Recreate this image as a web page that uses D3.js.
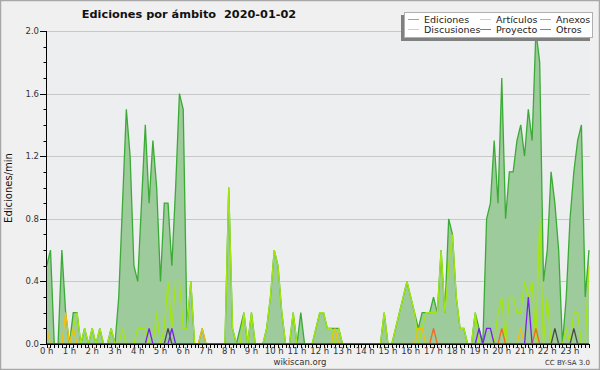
<!DOCTYPE html>
<html>
<head>
<meta charset="utf-8">
<script src="https://cdn.jsdelivr.net/npm/d3@7"></script>
<style>
  body { margin: 0; background: #f0f0f0; }
  svg { display: block; }
  text { font-family: "DejaVu Sans", sans-serif; }
</style>
</head>
<body>
<div id="chart"></div>
<script>
// 10-minute bins over the day (144 points), values in edits per minute
const ediciones = [
  0.5,0.6,0,0,0.6,0.2,0,0.2,0.2,0,0.1,0,
  0.1,0,0.1,0,0,0.1,0,0.3,0.9,1.5,1.2,0.5,
  0.4,0.9,1.4,0.9,1.3,1.0,0.4,0.9,0.9,0.5,1.0,1.6,
  1.5,0.1,0.4,0,0,0.1,0,0,0,0,0,0,
  1.0,0.1,0,0.1,0.2,0,0.2,0,0,0,0.1,0.3,
  0.6,0.5,0.2,0,0,0.2,0,0.2,0,0,0,0.1,
  0.2,0.2,0.1,0.1,0.1,0.1,0,0,0,0,0,0,
  0,0,0,0,0,0.2,0,0,0.1,0.2,0.3,0.4,
  0.3,0.2,0.1,0.2,0.2,0.2,0.3,0.2,0.6,0.2,0.8,0.7,
  0.3,0.1,0.1,0,0,0.2,0.1,0,0.8,0.9,1.3,0.9,
  1.7,0.8,1.1,1.1,1.3,1.4,1.2,1.5,1.3,2.0,1.8,0.4,
  0.6,1.1,0.9,0.6,0,0.3,0.8,1.1,1.3,1.4,0.3,0.6
];
const articulos = [
  0,0,0,0,0,0,0,0.1,0.2,0,0.1,0,
  0.1,0,0.1,0,0,0.1,0,0,0.1,0,0,0,
  0.1,0.1,0.1,0,0,0.2,0,0.1,0.4,0.1,0.4,0.4,
  0.1,0.1,0.4,0,0,0,0,0,0,0,0,0,
  1.0,0.1,0,0,0.2,0,0.2,0,0,0,0.1,0.3,
  0.6,0.5,0.2,0,0,0.2,0,0,0,0,0,0.1,
  0.2,0.2,0.1,0.1,0,0.1,0,0,0,0,0,0,
  0,0,0,0,0,0.2,0,0,0.1,0.2,0.3,0.4,
  0.3,0.2,0,0.1,0.2,0.2,0.2,0.2,0.6,0.2,0.5,0.7,
  0.3,0.1,0.1,0,0,0.2,0,0,0,0,0,0.2,
  0.3,0,0.3,0.3,0.2,0.2,0.4,0.3,0.4,0,0.8,0,
  0.3,0,0,0,0,0.1,0,0.2,0.2,0,0,0.5
];
const discusiones = [
  0.1,0,0,0,0,0.2,0,0.1,0,0,0,0,
  0,0,0,0,0,0,0,0,0,0,0,0,
  0,0,0,0,0,0,0,0,0,0,0,0,
  0,0,0,0,0,0.1,0,0,0,0,0,0,
  0,0,0,0,0,0,0,0,0,0,0,0,
  0,0,0,0,0,0,0,0,0,0,0,0,
  0,0,0,0,0.1,0,0,0,0,0,0,0,
  0,0,0,0,0,0,0,0,0,0,0,0,
  0,0,0.1,0.1,0,0,0,0,0,0,0,0,
  0,0,0,0,0,0,0,0,0,0,0,0,
  0,0,0,0,0,0.1,0,0,0,0,0,0,
  0,0,0,0,0,0,0,0,0,0,0,0
];
const anexos = [
  0,0,0,0,0,0,0,0,0,0,0,0,
  0,0,0,0,0,0,0,0,0,0,0,0,
  0,0,0,0,0,0,0,0,0,0,0,0,
  0,0,0,0,0,0,0,0,0,0,0,0,
  0,0,0,0,0,0,0,0,0,0,0,0,
  0,0,0,0,0,0,0,0,0,0,0,0,
  0,0,0,0,0,0,0,0,0,0,0,0,
  0,0,0,0,0,0,0,0,0,0,0,0,
  0,0,0,0,0,0,0.1,0,0,0,0,0,
  0,0,0,0,0,0,0,0,0,0,0,0,
  0.1,0,0,0,0,0,0,0,0,0.1,0,0,
  0,0,0,0,0,0,0,0,0,0,0,0
];
const proyecto = [
  0,0,0,0,0,0,0,0,0,0,0,0,
  0,0,0,0,0,0,0,0,0,0,0,0,
  0,0,0,0,0,0,0,0,0.1,0,0,0,
  0,0,0,0,0,0,0,0,0,0,0,0,
  0,0,0,0,0,0,0,0,0,0,0,0,
  0,0,0,0,0,0,0,0,0,0,0,0,
  0,0,0,0,0,0,0,0,0,0,0,0,
  0,0,0,0,0,0,0,0,0,0,0,0,
  0,0,0,0,0,0,0,0,0,0,0,0,
  0,0,0,0,0,0,0,0,0,0,0,0,
  0,0,0,0,0,0,0,0,0,0,0,0,
  0,0,0.1,0,0,0,0,0.1,0,0,0,0
];
const otros = [
  0,0,0,0,0,0,0,0,0,0,0,0,
  0,0,0,0,0,0,0,0,0,0,0,0,
  0,0,0,0.1,0,0,0,0,0,0.1,0,0,
  0,0,0,0,0,0,0,0,0,0,0,0,
  0,0,0,0,0,0,0,0,0,0,0,0,
  0,0,0,0,0,0,0,0,0,0,0,0,
  0,0,0,0,0,0,0,0,0,0,0,0,
  0,0,0,0,0,0,0,0,0,0,0,0,
  0,0,0,0,0,0,0,0,0,0,0,0,
  0,0,0,0,0,0,0.1,0,0.1,0.1,0,0,
  0,0,0,0,0,0,0,0.3,0,0,0,0,
  0,0,0,0,0,0,0,0,0,0,0,0
];
const hourLabels = ["0 h","1 h","2 h","3 h","4 h","5 h","6 h","7 h","8 h","9 h","10 h","11 h",
  "12 h","13 h","14 h","15 h","16 h","17 h","18 h","19 h","20 h","21 h","22 h","23 h"];
const yTicks = [0, 0.4, 0.8, 1.2, 1.6, 2.0];

const W = 600, H = 370;
const svg = d3.select("#chart").append("svg")
  .attr("width", W).attr("height", H);

// background + frame
svg.append("rect").attr("x", 0.5).attr("y", 0.5).attr("width", W - 1).attr("height", H - 1)
  .style("fill", "#f0f0f0").style("stroke", "#a8a8a8").style("stroke-width", 1.5);

let x = d3.scaleLinear().domain([0, 143]).range([46.7, 589]);
let y = d3.scaleLinear().domain([0, 2.0]).range([344, 31]);

// plot background
svg.append("rect")
  .attr("x", x(0)).attr("y", y(2.0))
  .attr("width", 590 - x(0)).attr("height", y(0) - y(2.0))
  .style("fill", "#edeef0");

// grid
svg.append("g").selectAll("line")
  .data(yTicks.filter(d => d > 0))
  .enter().append("line")
  .attr("x1", x(0)).attr("x2", 590)
  .attr("y1", d => Math.round(y(d)) + 0.5).attr("y2", d => Math.round(y(d)) + 0.5)
  .style("stroke", "#c8c8c8").style("stroke-width", 1);

// series
let line = d3.line().x((d, i) => x(i)).y(d => y(d));
let area = d3.area().x((d, i) => x(i)).y0(y(0)).y1(d => y(d));

svg.append("path").attr("d", area(ediciones))
  .style("fill", "#9ecb9b").style("stroke", "none");
svg.append("path").attr("d", line(ediciones))
  .style("fill", "none").style("stroke", "#3aab35").style("stroke-width", 1.3);

const series = [
  { values: articulos, color: "#a4e612" },
  { values: discusiones, color: "#f2bf10" },
  { values: anexos, color: "#f06a1e" },
  { values: proyecto, color: "#4a4a4a" },
  { values: otros, color: "#7a22e6" }
];
series.forEach(s => {
  svg.append("path").attr("d", line(s.values))
    .style("fill", "none").style("stroke", s.color).style("stroke-width", 1.3);
});

// axes
let axes = svg.append("g");
axes.append("line")
  .attr("x1", 46.5).attr("x2", 46.5).attr("y1", y(2.0)).attr("y2", 344.5)
  .style("stroke", "#000");
axes.append("line")
  .attr("x1", 46).attr("x2", 590).attr("y1", 344.5).attr("y2", 344.5)
  .style("stroke", "#000");

// y ticks: minor every 0.1, major every 0.4
axes.selectAll(".ytick")
  .data(d3.range(0, 21))
  .enter().append("line")
  .attr("x1", d => d % 4 === 0 ? 40 : 43.5).attr("x2", 46.5)
  .attr("y1", d => Math.round(y(d / 10)) + 0.5).attr("y2", d => Math.round(y(d / 10)) + 0.5)
  .style("stroke", "#000");
axes.selectAll(".ylab")
  .data(yTicks)
  .enter().append("text")
  .attr("x", 39).attr("y", d => y(d) + 3)
  .attr("text-anchor", "end")
  .style("font-size", "8.5px").style("fill", "#333")
  .text(d => d.toFixed(1));

// x ticks every 10 min
axes.selectAll(".xtick")
  .data(d3.range(0, 144))
  .enter().append("line")
  .attr("x1", d => Math.round(x(d)) + 0.5).attr("x2", d => Math.round(x(d)) + 0.5)
  .attr("y1", 344.5).attr("y2", 348)
  .style("stroke", "#000");
axes.selectAll(".xlab")
  .data(hourLabels)
  .enter().append("text")
  .attr("x", (d, i) => x(i * 6))
  .attr("y", 354)
  .attr("text-anchor", "middle")
  .style("font-size", "8.5px").style("fill", "#333")
  .text(d => d);

// titles
svg.append("text")
  .attr("x", 189).attr("y", 18)
  .attr("text-anchor", "middle")
  .style("white-space", "pre")
  .style("font-size", "11.3px").style("font-weight", "bold").style("fill", "#111")
  .text("Ediciones por ámbito  2020-01-02");

svg.append("text")
  .attr("transform", "translate(12,188) rotate(-90)")
  .attr("text-anchor", "middle")
  .style("font-size", "10px").style("fill", "#111")
  .text("Ediciones/min");

svg.append("text")
  .attr("x", 300).attr("y", 365)
  .attr("text-anchor", "middle")
  .style("font-size", "8.5px").style("fill", "#333")
  .text("wikiscan.org");

svg.append("text")
  .attr("x", 590).attr("y", 365)
  .attr("text-anchor", "end")
  .style("font-size", "7px").style("fill", "#333")
  .text("CC BY-SA 3.0");

// legend
const legendItems = [
  { name: "Ediciones", color: "#3aab35", col: 0, row: 0 },
  { name: "Artículos", color: "#a4e612", col: 1, row: 0 },
  { name: "Anexos", color: "#f06a1e", col: 2, row: 0 },
  { name: "Discusiones", color: "#f2bf10", col: 0, row: 1 },
  { name: "Proyecto", color: "#4a4a4a", col: 1, row: 1 },
  { name: "Otros", color: "#7a22e6", col: 2, row: 1 }
];
const colX = [408, 480, 540];
let legend = svg.append("g");
legend.append("rect").attr("x", 401).attr("y", 15).attr("width", 189).attr("height", 26)
  .style("fill", "#808080");
legend.append("rect").attr("x", 404.5).attr("y", 12.5).attr("width", 188).attr("height", 25)
  .style("fill", "#fff").style("stroke", "#b0b0b0");
let li = legend.selectAll(".item").data(legendItems).enter().append("g");
li.append("line")
  .attr("x1", d => colX[d.col]).attr("x2", d => colX[d.col] + 11)
  .attr("y1", d => 19.5 + d.row * 10).attr("y2", d => 19.5 + d.row * 10)
  .style("stroke", d => d.color).style("stroke-width", 1).style("opacity", 0.7);
li.append("text")
  .attr("x", d => colX[d.col] + 16)
  .attr("y", d => 23 + d.row * 10)
  .style("font-size", "9.5px").style("fill", "#222")
  .text(d => d.name);
</script>
</body>
</html>
